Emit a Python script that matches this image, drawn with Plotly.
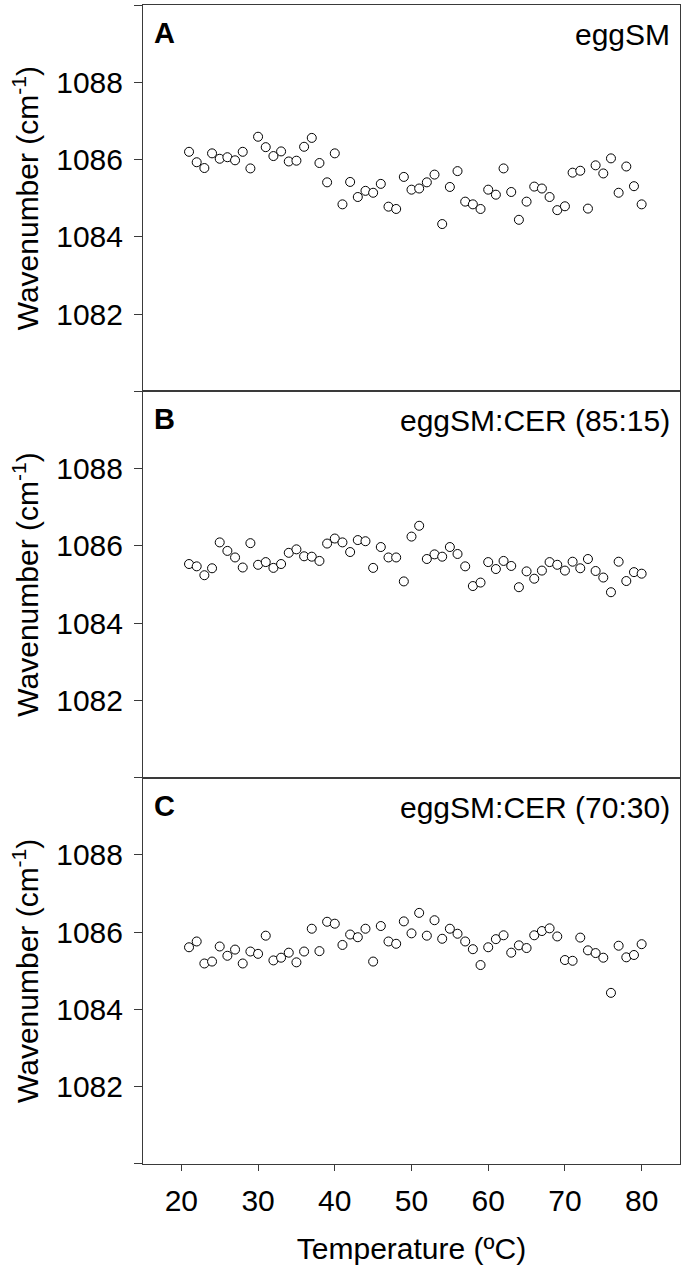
import plotly.graph_objects as go
from plotly.subplots import make_subplots

temperature = [21, 22, 23, 24, 25, 26, 27, 28, 29, 30,
               31, 32, 33, 34, 35, 36, 37, 38, 39, 40,
               41, 42, 43, 44, 45, 46, 47, 48, 49, 50,
               51, 52, 53, 54, 55, 56, 57, 58, 59, 60,
               61, 62, 63, 64, 65, 66, 67, 68, 69, 70,
               71, 72, 73, 74, 75, 76, 77, 78, 79, 80]

egg_sm = [1086.20, 1085.93, 1085.78, 1086.16, 1086.02, 1086.06, 1085.98, 1086.20, 1085.77, 1086.59,
          1086.32, 1086.09, 1086.21, 1085.95, 1085.97, 1086.33, 1086.56, 1085.91, 1085.41, 1086.16,
          1084.84, 1085.42, 1085.03, 1085.19, 1085.14, 1085.37, 1084.78, 1084.72, 1085.55, 1085.22,
          1085.25, 1085.41, 1085.61, 1084.33, 1085.29, 1085.70, 1084.91, 1084.84, 1084.72, 1085.22,
          1085.09, 1085.77, 1085.16, 1084.44, 1084.91, 1085.30, 1085.25, 1085.03, 1084.69, 1084.79,
          1085.66, 1085.71, 1084.73, 1085.85, 1085.64, 1086.03, 1085.14, 1085.82, 1085.31, 1084.84]

egg_sm_cer_85_15 = [1085.53, 1085.47, 1085.24, 1085.42, 1086.09, 1085.87, 1085.70, 1085.44, 1086.07, 1085.51,
                    1085.58, 1085.43, 1085.53, 1085.82, 1085.91, 1085.73, 1085.72, 1085.61, 1086.06, 1086.19,
                    1086.09, 1085.84, 1086.15, 1086.12, 1085.43, 1085.97, 1085.70, 1085.70, 1085.08, 1086.24,
                    1086.52, 1085.66, 1085.78, 1085.72, 1085.97, 1085.79, 1085.47, 1084.96, 1085.05, 1085.58,
                    1085.40, 1085.61, 1085.48, 1084.93, 1085.34, 1085.15, 1085.36, 1085.58, 1085.51, 1085.36,
                    1085.59, 1085.42, 1085.66, 1085.35, 1085.18, 1084.80, 1085.59, 1085.09, 1085.32, 1085.28]

egg_sm_cer_70_30 = [1085.61, 1085.76, 1085.19, 1085.24, 1085.63, 1085.39, 1085.55, 1085.19, 1085.50, 1085.44,
                    1085.91, 1085.27, 1085.34, 1085.47, 1085.22, 1085.50, 1086.09, 1085.51, 1086.27, 1086.22,
                    1085.67, 1085.94, 1085.87, 1086.09, 1085.24, 1086.16, 1085.76, 1085.70, 1086.28, 1085.97,
                    1086.50, 1085.91, 1086.31, 1085.83, 1086.09, 1085.96, 1085.76, 1085.56, 1085.15, 1085.61,
                    1085.82, 1085.92, 1085.47, 1085.66, 1085.59, 1085.92, 1086.03, 1086.10, 1085.89, 1085.28,
                    1085.26, 1085.86, 1085.53, 1085.46, 1085.34, 1084.43, 1085.65, 1085.35, 1085.41, 1085.69]

panel_letters = ["A", "B", "C"]
panel_names = ["eggSM", "eggSM:CER (85:15)", "eggSM:CER (70:30)"]
series = [egg_sm, egg_sm_cer_85_15, egg_sm_cer_70_30]

y_tick_vals = [1082, 1084, 1086, 1088]
y_tick_text = ["1082", "1084", "1086", "1088"]
y_edge_ticks = [1080, 1090]
x_tick_vals = [20, 30, 40, 50, 60, 70, 80]
x_tick_text = ["20", "30", "40", "50", "60", "70", "80"]

FONT = "Arial, Liberation Sans, sans-serif"
AXIS_COLOR = "#3a3a3a"

fig = make_subplots(rows=3, cols=1, shared_xaxes=True, vertical_spacing=0)

for i, values in enumerate(series):
    fig.add_trace(
        go.Scatter(
            x=temperature, y=values, mode="markers",
            marker=dict(symbol="circle", size=9, color="white",
                        line=dict(color="black", width=1)),
            showlegend=False, name=panel_names[i],
        ),
        row=i + 1, col=1,
    )
    fig.update_yaxes(
        range=[1080, 1090], tickvals=y_tick_vals, ticktext=y_tick_text,
        ticks="outside", ticklen=8, tickwidth=1, tickcolor=AXIS_COLOR,
        minor=dict(tickvals=y_edge_ticks, ticks="outside", ticklen=8,
                   tickwidth=1, tickcolor=AXIS_COLOR, showgrid=False),
        showline=True, linecolor=AXIS_COLOR, linewidth=1, mirror=True,
        showgrid=False, zeroline=False, automargin=False,
        tickfont=dict(family=FONT, size=30, color="black"),
        ticklabelstandoff=5,
        title=dict(text="Wavenumber (cm<sup>-1</sup>)",
                   font=dict(family=FONT, size=30, color="black"), standoff=8),
        row=i + 1, col=1,
    )
    is_bottom = (i == 2)
    fig.update_xaxes(
        range=[15, 85], tickvals=x_tick_vals, ticktext=x_tick_text,
        ticks="outside" if is_bottom else "", ticklen=6, tickwidth=1, tickcolor=AXIS_COLOR,
        showticklabels=is_bottom,
        showline=True, linecolor=AXIS_COLOR, linewidth=1, mirror=True,
        showgrid=False, zeroline=False, automargin=False,
        tickfont=dict(family=FONT, size=30, color="black"),
        ticklabelstandoff=4,
        row=i + 1, col=1,
    )
    yref = "y domain" if i == 0 else f"y{i + 1} domain"
    xref = "x domain" if i == 0 else f"x{i + 1} domain"
    fig.add_annotation(
        text=f"<b>{panel_letters[i]}</b>", x=0, y=1, xref=xref, yref=yref,
        xanchor="left", yanchor="top", xshift=9, yshift=-10, showarrow=False,
        font=dict(family=FONT, size=29, color="black"),
    )
    fig.add_annotation(
        text=panel_names[i], x=1, y=1, xref=xref, yref=yref,
        xanchor="right", yanchor="top", xshift=-8, yshift=-11, showarrow=False,
        font=dict(family=FONT, size=30, color="black"),
    )

fig.update_xaxes(
    title=dict(text="Temperature (ºC)", font=dict(family=FONT, size=30, color="black"), standoff=21),
    row=3, col=1,
)

fig.update_layout(
    width=685, height=1269,
    margin=dict(l=143, r=5, t=5, b=105, autoexpand=False),
    plot_bgcolor="white", paper_bgcolor="white",
    font=dict(family=FONT, color="black"),
)

fig.write_html("out.html", config={"displayModeBar": False},
               post_script="document.body.style.margin='0';")
